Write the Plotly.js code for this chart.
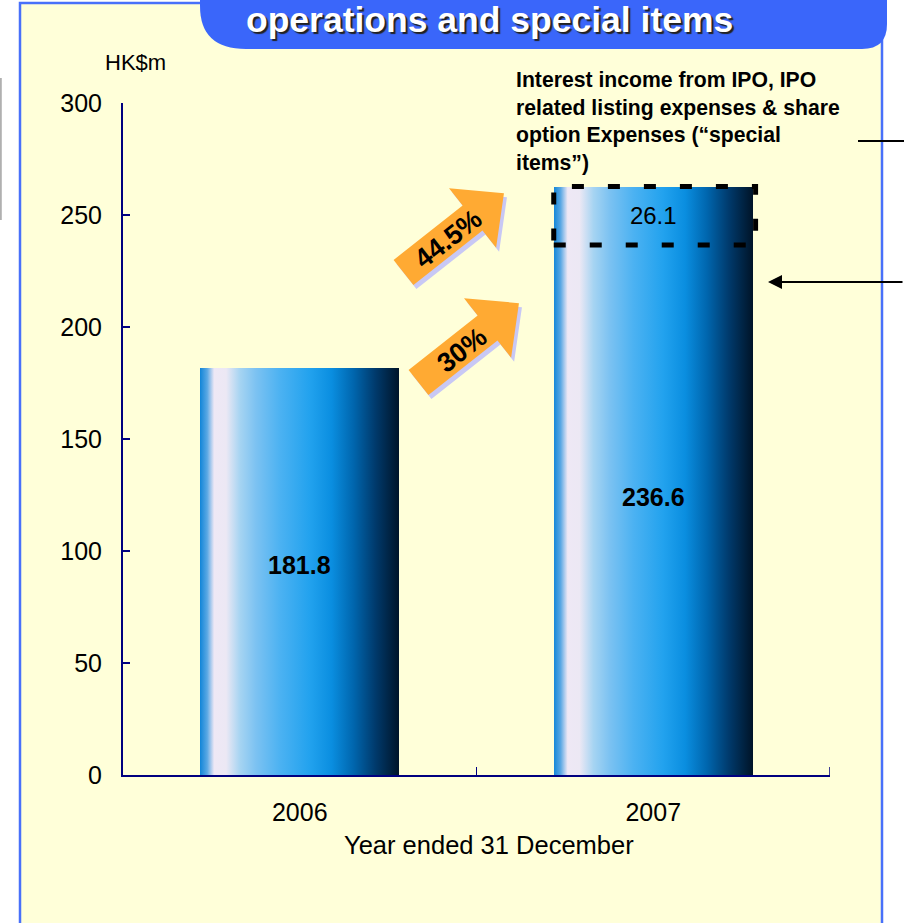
<!DOCTYPE html>
<html>
<head>
<meta charset="utf-8">
<script src="https://cdn.plot.ly/plotly-3.0.1.min.js"></script>
<style>html,body{margin:0;padding:0;background:#fff;}#chart{width:904px;height:923px;}</style>
</head>
<body>
<div id="chart"></div>
<script>
// ---- data ----
const categories = ['2006', '2007'];
const coreValues = [181.8, 236.6];
const specialValues = [null, 26.1];
const growthLabels = ['44.5%', '30%'];
const yTickVals = [0, 50, 100, 150, 200, 250, 300];
const titleText = 'operations and special items';
const unitText = 'HK$m';
const xTitleText = 'Year ended 31 December';
const noteText = 'Interest income from IPO, IPO<br>related listing expenses &amp; share<br>option Expenses (\u201cspecial<br>items\u201d)';

// ---- geometry helpers (pixel -> paper) ----
const PL = 123, PW = 707, PB = 775, PH = 672;
function P(px, py) { return [(px - PL) / PW, (PB - py) / PH]; }
function pathOf(pts) {
  return pts.map((p, i) => { const q = P(p[0], p[1]); return (i ? 'L' : 'M') + q[0].toFixed(5) + ',' + q[1].toFixed(5); }).join(' ') + ' Z';
}
function arrowPts(tx, ty, len, ang, sw, hw, hl) {
  const a = ang * Math.PI / 180, ux = Math.cos(a), uy = -Math.sin(a), nx = Math.sin(a), ny = Math.cos(a);
  const nk = [tx + ux * (len - hl), ty + uy * (len - hl)];
  return [
    [tx - nx * sw / 2, ty - ny * sw / 2],
    [nk[0] - nx * sw / 2, nk[1] - ny * sw / 2],
    [nk[0] - nx * hw / 2, nk[1] - ny * hw / 2],
    [tx + ux * len, ty + uy * len],
    [nk[0] + nx * hw / 2, nk[1] + ny * hw / 2],
    [nk[0] + nx * sw / 2, nk[1] + ny * sw / 2],
    [tx + nx * sw / 2, ty + ny * sw / 2]
  ];
}
function shifted(pts, dx, dy) { return pts.map(p => [p[0] + dx, p[1] + dy]); }

const FONT = '"Liberation Sans", Arial, Helvetica, sans-serif';
const BAR_W = 0.563;

const traces = [
  { type: 'bar', x: categories, y: coreValues, width: BAR_W,
    marker: { color: '#1ea0ee', line: { width: 0 } }, hoverinfo: 'skip' },
  { type: 'bar', x: categories, y: specialValues, width: BAR_W,
    marker: { color: '#1ea0ee', line: { width: 0 } },
    text: specialValues.map(v => v == null ? '' : v.toFixed(1)),
    textposition: 'inside', insidetextanchor: 'middle', constraintext: 'none', textangle: 0,
    textfont: { family: FONT, size: 24, color: '#000' }, hoverinfo: 'skip' }
];

// banner path
const P0 = P(200, -30), bl = P(200, 6), blc = P(200, 49), ble = P(246, 49), br = P(862, 49), brc = P(887, 49), bre = P(887, 24), P1 = P(887, -30);
const bannerPath = `M${P0[0]},${P0[1]} L${bl[0]},${bl[1]} Q${blc[0]},${blc[1]} ${ble[0]},${ble[1]} L${br[0]},${br[1]} Q${brc[0]},${brc[1]} ${bre[0]},${bre[1]} L${P1[0]},${P1[1]} Z`;

const arrow1 = arrowPts(403.5, 272.5, 128, 38.3, 32, 76, 40);
const arrow2 = shifted(arrow1, 15, 110);

const panelA = P(20, 3), panelB = P(882, 960);
const gray0 = P(0.8, 78), gray1 = P(0.8, 220);
const ln0 = P(858, 141), ln1 = P(910, 141);

const shapes = [
  { type: 'rect', xref: 'paper', yref: 'paper', layer: 'below', x0: panelA[0], y0: panelA[1], x1: panelB[0], y1: panelB[1],
    fillcolor: 'rgb(255,255,217)', line: { color: 'rgb(72,112,250)', width: 2.5 } },
  { type: 'path', xref: 'paper', yref: 'paper', layer: 'below', path: bannerPath, fillcolor: 'rgb(58,102,250)', line: { width: 0 } },
  { type: 'line', xref: 'paper', yref: 'paper', x0: gray0[0], y0: gray0[1], x1: gray1[0], y1: gray1[1], line: { color: '#b0b0b0', width: 2 } },
  { type: 'path', xref: 'paper', yref: 'paper', path: pathOf(shifted(arrow1, 3, 4)), fillcolor: 'rgb(200,200,245)', line: { width: 0 } },
  { type: 'path', xref: 'paper', yref: 'paper', path: pathOf(arrow1), fillcolor: 'rgb(255,170,51)', line: { width: 0 } },
  { type: 'path', xref: 'paper', yref: 'paper', path: pathOf(shifted(arrow2, 3, 4)), fillcolor: 'rgb(200,200,245)', line: { width: 0 } },
  { type: 'path', xref: 'paper', yref: 'paper', path: pathOf(arrow2), fillcolor: 'rgb(255,170,51)', line: { width: 0 } },
  { type: 'rect', xref: 'x', yref: 'y', x0: 1 - BAR_W / 2, x1: 1 + BAR_W / 2 + 0.008,
    y0: coreValues[1], y1: coreValues[1] + specialValues[1],
    line: { color: '#000', width: 5, dash: '12px,24px' }, fillcolor: 'rgba(0,0,0,0)' },
  { type: 'line', xref: 'paper', yref: 'paper', x0: ln0[0], y0: ln0[1], x1: ln1[0], y1: ln1[1], line: { color: '#000', width: 2 } },
  // closing tick at the right end of the category axis
  { type: 'line', xref: 'x', yref: 'paper', x0: categories.length - 0.5, x1: categories.length - 0.5, y0: 0, y1: 8 / PH,
    line: { color: '#000080', width: 1.5 } }
];

const tpos = P(489, 19.5), upos = P(135, 63), npos = P(514, 66), a1 = P(448, 239), a2 = P(462, 350), arr = P(768, 282), xt = P(489, 845);
const annotations = [
  { xref: 'paper', yref: 'paper', x: tpos[0], y: tpos[1], xanchor: 'center', yanchor: 'middle', showarrow: false,
    text: '<b>' + titleText + '</b>', font: { family: FONT, size: 35.5, color: '#fff', shadow: '2px 2px 1px #222' } },
  { xref: 'paper', yref: 'paper', x: upos[0], y: upos[1], xanchor: 'center', yanchor: 'middle', showarrow: false,
    text: unitText, font: { family: FONT, size: 22, color: '#000' } },
  { xref: 'paper', yref: 'paper', x: npos[0], y: npos[1], xanchor: 'left', yanchor: 'top', align: 'left', showarrow: false,
    text: '<b>' + noteText + '</b>', font: { family: FONT, size: 21.2, color: '#000' } },
  { xref: 'paper', yref: 'paper', x: a1[0], y: a1[1], xanchor: 'center', yanchor: 'middle', showarrow: false, textangle: -38,
    text: '<b>' + growthLabels[0] + '</b>', font: { family: FONT, size: 27, color: '#000' } },
  { xref: 'paper', yref: 'paper', x: a2[0], y: a2[1], xanchor: 'center', yanchor: 'middle', showarrow: false, textangle: -38,
    text: '<b>' + growthLabels[1] + '</b>', font: { family: FONT, size: 27, color: '#000' } },
  { xref: 'paper', yref: 'paper', x: arr[0], y: arr[1], ax: 150, ay: 0, text: '', showarrow: true,
    arrowhead: 2, arrowsize: 1.4, arrowwidth: 2, arrowcolor: '#000' },
  { xref: 'paper', yref: 'paper', x: xt[0], y: xt[1], xanchor: 'center', yanchor: 'middle', showarrow: false,
    text: xTitleText, font: { family: FONT, size: 25.5, color: '#000' } }
];
// bar value labels for the core segments (category index positions)
const labelShift = [6, 13];
categories.forEach((c, i) => {
  annotations.push({ xref: 'x', yref: 'y', x: i, y: coreValues[i] / 2, yshift: labelShift[i], showarrow: false,
    text: '<b>' + coreValues[i].toFixed(1) + '</b>', font: { family: FONT, size: 25, color: '#000' } });
});

const layout = {
  width: 904, height: 923,
  margin: { l: PL, r: 904 - PL - PW, t: PB - PH, b: 923 - PB, pad: 0 },
  paper_bgcolor: '#ffffff', plot_bgcolor: 'rgba(0,0,0,0)',
  barmode: 'stack', showlegend: false, hovermode: false,
  font: { family: FONT, color: '#000' },
  xaxis: { type: 'category', range: [-0.5, 1.5], autorange: false, showgrid: false, zeroline: false, showline: true, linecolor: '#000080', linewidth: 2,
    ticks: 'inside', tickson: 'boundaries', ticklen: 8, tickwidth: 1.5, tickcolor: '#000080', tickangle: 0,
    tickfont: { family: FONT, size: 25, color: '#000' }, ticklabelstandoff: 14 },
  yaxis: { range: [0, 300], autorange: false, tickvals: yTickVals, showgrid: false, zeroline: false, showline: true, linecolor: '#000080', linewidth: 2,
    ticks: 'inside', ticklen: 7, tickwidth: 1.5, tickcolor: '#000080',
    tickfont: { family: FONT, size: 25, color: '#000' }, ticklabelstandoff: 14 },
  shapes: shapes, annotations: annotations
};

Plotly.newPlot('chart', traces, layout, { staticPlot: true, displayModeBar: false }).then(gd => {
  const NS = 'http://www.w3.org/2000/svg';
  const defs = gd.querySelector('svg.main-svg defs');
  const g = document.createElementNS(NS, 'linearGradient');
  g.setAttribute('id', 'barGrad');
  g.setAttribute('x1', '0'); g.setAttribute('y1', '0'); g.setAttribute('x2', '1'); g.setAttribute('y2', '0');
  const stops = [[0, '#1386d8'], [0.035, '#5aa8e4'], [0.07, '#eee8f5'], [0.13, '#ece8f4'], [0.2, '#a6d4f2'],
    [0.28, '#7cc2f2'], [0.4, '#4cb2f2'], [0.55, '#22a2ee'], [0.66, '#0a8ee0'], [0.77, '#0066ae'], [0.88, '#003a6c'], [1, '#001428']];
  stops.forEach(s => { const st = document.createElementNS(NS, 'stop'); st.setAttribute('offset', s[0]); st.setAttribute('stop-color', s[1]); g.appendChild(st); });
  defs.appendChild(g);
  gd.querySelectorAll('.barlayer .point path').forEach(p => { p.style.fill = 'url(#barGrad)'; });
});
</script>
</body>
</html>
